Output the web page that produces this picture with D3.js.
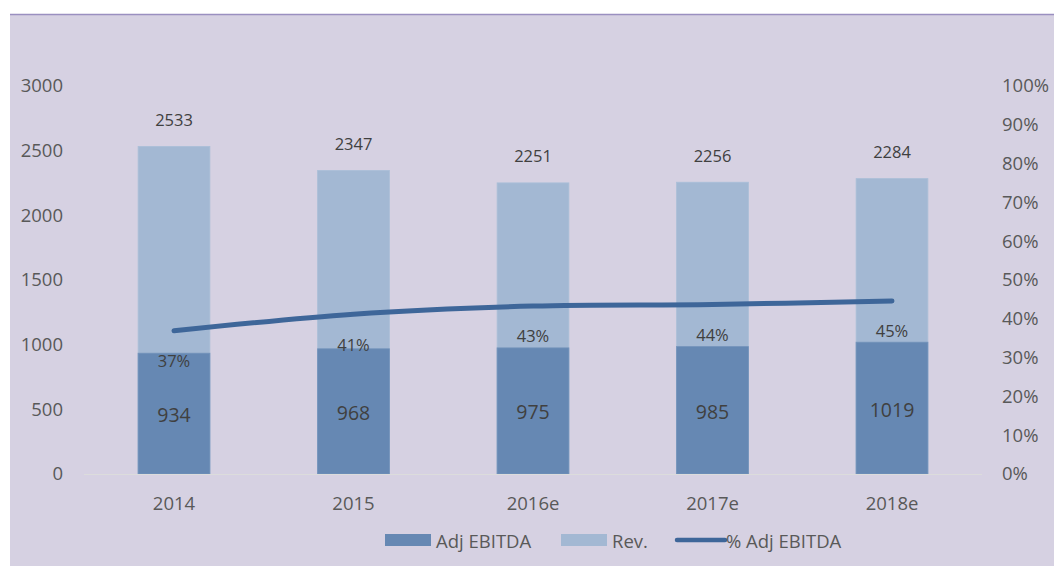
<!DOCTYPE html>
<html><head><meta charset="utf-8">
<script src="https://cdn.jsdelivr.net/npm/d3@7"></script>
<style>html,body{margin:0;padding:0;background:#fff;}svg{display:block;font-family:"Open Sans",sans-serif;}</style>
</head><body>
<svg id="c" width="1054" height="566"></svg>
<script>
const categories = ["2014","2015","2016e","2017e","2018e"];
const ebitda = [934, 968, 975, 985, 1019];
const revenue = [2533, 2347, 2251, 2256, 2284];
const pctEbitda = [0.369, 0.412, 0.433, 0.437, 0.446];
const pctLabels = ["37%","41%","43%","44%","45%"];
const leftTicks = [0,500,1000,1500,2000,2500,3000];
const rightTicks = [0,0.1,0.2,0.3,0.4,0.5,0.6,0.7,0.8,0.9,1.0];

const svg = d3.select("#c");
const W = 1054, H = 566;
const colE = "#6688b3", colR = "#a3b8d3", colL = "#3e6699", bg = "#d6d1e2";

svg.append("rect").attr("x",10).attr("y",14).attr("width",W-10).attr("height",H-14).attr("fill",bg);
svg.append("line").attr("x1",10).attr("x2",W).attr("y1",14.5).attr("y2",14.5).attr("stroke","#9a8fc0").attr("stroke-width",1.5);

const x = d3.scaleBand().domain(categories).range([84.25, 981.75]).paddingInner(0.6).paddingOuter(0.3);
const y = d3.scaleLinear().domain([0,3000]).range([474,86]);
const y2 = d3.scaleLinear().domain([0,1]).range([474,86]);

// left axis
const la = svg.append("g").attr("transform","translate(63,0)")
  .call(d3.axisLeft(y).tickValues(leftTicks).tickFormat(d3.format("d")).tickSize(0).tickPadding(0));
la.select(".domain").remove();
la.selectAll("text").attr("font-size",18.5).attr("fill","#595959").attr("font-family","Open Sans");

// right axis
const ra = svg.append("g").attr("transform","translate(1002,0)")
  .call(d3.axisRight(y2).tickValues(rightTicks).tickFormat(d3.format(".0%")).tickSize(0).tickPadding(0));
ra.select(".domain").remove();
ra.selectAll("text").attr("font-size",18.5).attr("fill","#595959").attr("font-family","Open Sans");

// bars: revenue behind
svg.append("g").selectAll("rect").data(categories).join("rect")
  .attr("x",d=>x(d)).attr("width",x.bandwidth())
  .attr("y",(d,i)=>y(revenue[i])).attr("height",(d,i)=>y(0)-y(revenue[i]))
  .attr("fill",colR).attr("stroke","#abbfd8").attr("stroke-width",0.8);
svg.append("g").selectAll("rect").data(categories).join("rect")
  .attr("x",d=>x(d)).attr("width",x.bandwidth())
  .attr("y",(d,i)=>y(ebitda[i])).attr("height",(d,i)=>y(0)-y(ebitda[i]))
  .attr("fill",colE).attr("stroke","#7393bb").attr("stroke-width",0.8);

// baseline
svg.append("line").attr("x1",84).attr("x2",982).attr("y1",474.5).attr("y2",474.5).attr("stroke","#dcdcdc").attr("stroke-width",1.2);

// x axis labels
const xa = svg.append("g").attr("transform","translate(0,474)")
  .call(d3.axisBottom(x).tickSize(0).tickPadding(0));
xa.select(".domain").remove();
xa.selectAll("text").attr("dy",null).attr("y",28).attr("dominant-baseline","central")
  .attr("font-size",18.5).attr("fill","#595959").attr("font-family","Open Sans");

// line
const cx = d => x(d) + x.bandwidth()/2;
const line = d3.line().x((d,i)=>cx(categories[i])).y(d=>y2(d)).curve(d3.curveCatmullRom.alpha(0.5));
svg.append("path").datum(pctEbitda).attr("d",line).attr("fill","none")
  .attr("stroke",colL).attr("stroke-width",5).attr("stroke-linecap","round").attr("stroke-linejoin","round");

// labels
const lab = svg.append("g").attr("font-family","Open Sans").attr("text-anchor","middle").attr("dominant-baseline","central");
lab.selectAll("text.rev").data(categories).join("text").attr("class","rev")
  .attr("x",d=>cx(d)).attr("y",(d,i)=>y(revenue[i])-27).attr("font-size",16.5).attr("fill","#404040")
  .text((d,i)=>revenue[i]);
lab.selectAll("text.eb").data(categories).join("text").attr("class","eb")
  .attr("x",d=>cx(d)).attr("y",(d,i)=>(y(ebitda[i])+y(0))/2+1).attr("font-size",19.5).attr("fill","#404040")
  .text((d,i)=>ebitda[i]);
lab.selectAll("text.pc").data(categories).join("text").attr("class","pc")
  .attr("x",d=>cx(d)).attr("y",(d,i)=>y2(pctEbitda[i])+30).attr("font-size",16.5).attr("fill","#404040")
  .text((d,i)=>pctLabels[i]);

// legend
const lg = svg.append("g").attr("font-family","Open Sans").attr("font-size",18.5).attr("fill","#595959");
const legendItems = [
  {label:"Adj EBITDA", type:"rect", color:colE, x:385},
  {label:"Rev.", type:"rect", color:colR, x:561},
  {label:"% Adj EBITDA", type:"line", color:colL, x:676}
];
legendItems.forEach(it=>{
  if(it.type==="rect"){
    lg.append("rect").attr("x",it.x).attr("y",534).attr("width",46).attr("height",12).attr("fill",it.color);
    lg.append("text").attr("x",it.x+51).attr("y",540).attr("dominant-baseline","central").text(it.label);
  } else {
    lg.append("line").attr("x1",it.x+1).attr("x2",it.x+49).attr("y1",540).attr("y2",540)
      .attr("stroke",it.color).attr("stroke-width",4.5).attr("stroke-linecap","round");
    lg.append("text").attr("x",it.x+50).attr("y",540).attr("dominant-baseline","central").text(it.label);
  }
});
</script>
</body></html>
